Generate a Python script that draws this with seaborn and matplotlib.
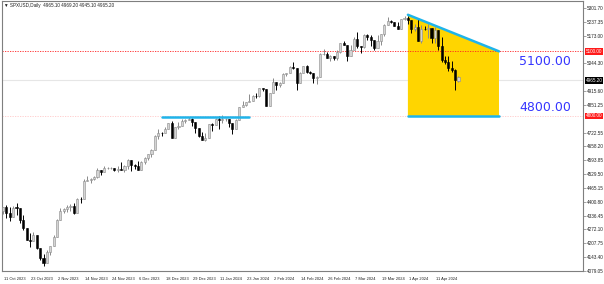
import matplotlib
matplotlib.use("Agg")
import matplotlib.pyplot as plt
import matplotlib.transforms as mtransforms
import seaborn as sns
import pandas as pd
import numpy as np

# ---------------- data ----------------
dates = ["11 Oct 2023","12 Oct 2023","13 Oct 2023","16 Oct 2023","17 Oct 2023","18 Oct 2023","19 Oct 2023","20 Oct 2023",
 "23 Oct 2023","24 Oct 2023","25 Oct 2023","26 Oct 2023","27 Oct 2023","30 Oct 2023","31 Oct 2023","1 Nov 2023",
 "2 Nov 2023","3 Nov 2023","6 Nov 2023","7 Nov 2023","8 Nov 2023","9 Nov 2023","10 Nov 2023","13 Nov 2023",
 "14 Nov 2023","15 Nov 2023","16 Nov 2023","17 Nov 2023","20 Nov 2023","21 Nov 2023","22 Nov 2023","23 Nov 2023",
 "24 Nov 2023","27 Nov 2023","28 Nov 2023","29 Nov 2023","30 Nov 2023","1 Dec 2023","4 Dec 2023","5 Dec 2023",
 "6 Dec 2023","7 Dec 2023","8 Dec 2023","11 Dec 2023","12 Dec 2023","13 Dec 2023","14 Dec 2023","15 Dec 2023",
 "18 Dec 2023","19 Dec 2023","20 Dec 2023","21 Dec 2023","22 Dec 2023","26 Dec 2023","27 Dec 2023","28 Dec 2023",
 "29 Dec 2023","2 Jan 2024","3 Jan 2024","4 Jan 2024","5 Jan 2024","8 Jan 2024","9 Jan 2024","10 Jan 2024",
 "11 Jan 2024","12 Jan 2024","15 Jan 2024","16 Jan 2024","17 Jan 2024","18 Jan 2024","19 Jan 2024","22 Jan 2024",
 "23 Jan 2024","24 Jan 2024","25 Jan 2024","26 Jan 2024","29 Jan 2024","30 Jan 2024","31 Jan 2024","1 Feb 2024",
 "2 Feb 2024","5 Feb 2024","6 Feb 2024","7 Feb 2024","8 Feb 2024","9 Feb 2024","12 Feb 2024","13 Feb 2024",
 "14 Feb 2024","15 Feb 2024","16 Feb 2024","19 Feb 2024","20 Feb 2024","21 Feb 2024","22 Feb 2024","23 Feb 2024",
 "26 Feb 2024","27 Feb 2024","28 Feb 2024","29 Feb 2024","1 Mar 2024","4 Mar 2024","5 Mar 2024","6 Mar 2024",
 "7 Mar 2024","8 Mar 2024","11 Mar 2024","12 Mar 2024","13 Mar 2024","14 Mar 2024","15 Mar 2024","18 Mar 2024",
 "19 Mar 2024","20 Mar 2024","21 Mar 2024","22 Mar 2024","25 Mar 2024","26 Mar 2024","27 Mar 2024","28 Mar 2024",
 "1 Apr 2024","2 Apr 2024","3 Apr 2024","4 Apr 2024","5 Apr 2024","8 Apr 2024","9 Apr 2024","10 Apr 2024",
 "11 Apr 2024","12 Apr 2024","15 Apr 2024","16 Apr 2024","17 Apr 2024","18 Apr 2024","19 Apr 2024","22 Apr 2024"]

opens = [4358.2,4377.0,4349.6,4327.8,4373.6,4373.2,4314.6,4278.0,4224.2,4217.0,4247.7,4186.8,4137.2,4117.4,4166.8,4193.8,
 4237.9,4317.8,4358.3,4366.0,4378.4,4382.8,4347.4,4415.2,4411.6,4495.7,4502.9,4508.2,4514.0,4547.4,4538.2,4556.6,
 4558.0,4559.3,4550.4,4554.9,4550.6,4567.8,4594.6,4569.8,4567.2,4549.3,4585.6,4604.4,4622.4,4643.7,4707.1,4719.6,
 4719.2,4740.6,4768.4,4698.4,4746.8,4754.6,4774.8,4781.6,4783.4,4769.8,4742.8,4704.8,4688.7,4697.2,4763.5,4756.5,
 4783.5,4780.2,4783.8,4786.0,4766.0,4739.2,4780.9,4839.8,4850.4,4864.6,4868.6,4894.2,4891.0,4927.9,4925.0,4845.7,
 4906.2,4958.6,4942.8,4954.2,4995.1,4997.9,5026.6,5021.8,4953.2,5000.6,5029.7,5005.6,5000.0,4975.5,4981.8,5087.0,
 5088.8,5069.5,5078.2,5069.8,5096.3,5137.1,5131.0,5078.7,5104.8,5157.4,5123.7,5117.9,5175.3,5165.3,5150.5,5117.1,
 5149.4,5178.5,5224.6,5241.5,5234.2,5218.2,5203.6,5248.5,5254.4,5243.8,5205.8,5211.5,5147.2,5204.3,5202.4,5209.9,
 5160.6,5199.1,5123.4,5061.8,5051.4,5022.2,5011.1,4960.0]

highs = [4378.6,4385.9,4377.1,4383.3,4393.6,4373.2,4339.5,4278.0,4255.8,4259.4,4247.7,4186.8,4156.7,4177.5,4195.6,4245.6,
 4319.7,4373.6,4372.2,4386.3,4391.2,4393.4,4418.0,4421.8,4508.7,4521.2,4512.0,4520.1,4557.1,4547.4,4568.4,4562.0,
 4560.3,4559.3,4568.1,4587.6,4569.9,4599.4,4594.6,4578.6,4590.7,4590.9,4609.2,4623.2,4643.9,4709.7,4738.6,4725.5,
 4749.5,4768.7,4778.0,4748.7,4772.9,4784.7,4785.4,4793.3,4788.4,4769.8,4742.8,4726.8,4721.5,4764.5,4765.5,4790.8,
 4798.5,4802.4,4790.0,4786.0,4766.0,4785.8,4842.1,4868.4,4866.5,4903.7,4898.2,4906.7,4929.3,4931.1,4925.0,4907.0,
 4975.3,4958.6,4957.8,4999.9,5000.4,5030.1,5048.4,5021.8,5002.5,5032.7,5038.7,5010.0,5000.0,4983.2,5094.4,5111.1,
 5097.7,5080.7,5078.2,5105.0,5140.3,5149.7,5131.0,5128.0,5165.6,5189.3,5124.7,5179.9,5179.1,5176.9,5150.5,5175.6,
 5180.3,5226.2,5261.1,5246.1,5234.2,5235.2,5249.3,5264.9,5264.0,5243.8,5228.8,5256.6,5222.2,5219.6,5224.8,5209.9,
 5211.8,5199.1,5168.4,5079.8,5078.0,5056.7,5019.0,4985.0]

lows = [4345.3,4325.4,4312.0,4327.8,4337.5,4303.8,4269.7,4223.0,4189.2,4217.0,4181.4,4127.9,4103.8,4117.4,4153.1,4193.8,
 4237.9,4317.8,4347.5,4355.4,4359.8,4343.9,4347.4,4393.8,4411.6,4495.3,4487.8,4499.7,4510.4,4525.5,4538.2,4552.0,
 4552.8,4544.6,4540.5,4547.2,4537.2,4554.7,4545.0,4551.7,4546.5,4549.3,4574.1,4593.4,4608.1,4643.2,4694.3,4704.7,
 4719.2,4740.6,4697.8,4698.4,4736.8,4754.6,4768.9,4781.0,4752.0,4722.7,4699.7,4687.5,4682.1,4697.2,4730.4,4756.2,
 4739.6,4769.0,4776.0,4747.1,4714.8,4739.2,4780.9,4839.8,4844.4,4864.6,4868.6,4881.5,4887.4,4916.3,4845.2,4845.7,
 4906.2,4918.1,4934.9,4954.2,4987.1,4997.9,5016.8,4920.3,4953.2,4999.4,4999.5,4996.0,4955.0,4946.0,4981.8,5081.5,
 5068.9,5057.3,5058.4,5061.9,5094.2,5127.2,5056.8,5078.7,5104.8,5117.5,5091.1,5114.5,5151.9,5123.3,5104.4,5117.1,
 5131.6,5171.6,5224.6,5229.9,5216.1,5203.4,5203.6,5245.8,5229.2,5184.1,5194.4,5146.1,5140.0,5197.4,5160.8,5138.7,
 5138.8,5107.9,5052.5,5039.8,5007.3,5001.9,4922.0,4958.0]

closes = [4377.0,4349.6,4327.8,4373.6,4373.2,4314.6,4278.0,4224.2,4217.0,4247.7,4186.8,4137.2,4117.4,4166.8,4193.8,4237.9,
 4317.8,4358.3,4366.0,4378.4,4382.8,4347.4,4415.2,4411.6,4495.7,4502.9,4508.2,4514.0,4547.4,4538.2,4556.6,4558.0,
 4559.3,4550.4,4554.9,4550.6,4567.8,4594.6,4569.8,4567.2,4549.3,4585.6,4604.4,4622.4,4643.7,4707.1,4719.6,4719.2,
 4740.6,4768.4,4698.4,4746.8,4754.6,4774.8,4781.6,4783.4,4769.8,4742.8,4704.8,4688.7,4697.2,4763.5,4756.5,4783.5,
 4780.2,4783.8,4786.0,4766.0,4739.2,4780.9,4839.8,4850.4,4864.6,4868.6,4894.2,4891.0,4927.9,4925.0,4845.7,4906.2,
 4958.6,4942.8,4954.2,4995.1,4997.9,5026.6,5021.8,4953.2,5000.6,5029.7,5005.6,5000.0,4975.5,4981.8,5087.0,5088.8,
 5069.5,5078.2,5069.8,5096.3,5137.1,5131.0,5078.7,5104.8,5157.4,5123.7,5117.9,5175.3,5165.3,5150.5,5117.1,5149.4,
 5178.5,5224.6,5241.5,5234.2,5218.2,5203.6,5248.5,5254.4,5243.8,5205.8,5211.5,5147.2,5204.3,5202.4,5209.9,5160.6,
 5199.1,5123.4,5061.8,5051.4,5022.2,5011.1,4967.2,4980.0]

price_ticks = [5301.70,5237.35,5173.00,5044.30,4915.60,4851.25,4722.55,4658.20,4593.85,4529.50,
               4465.15,4400.80,4336.45,4272.10,4207.75,4143.40,4079.05]
xtick_labels = ["11 Oct 2023","23 Oct 2023","2 Nov 2023","14 Nov 2023","24 Nov 2023","6 Dec 2023",
                "18 Dec 2023","29 Dec 2023","11 Jan 2024","23 Jan 2024","2 Feb 2024","14 Feb 2024",
                "26 Feb 2024","7 Mar 2024","19 Mar 2024","1 Apr 2024","11 Apr 2024"]

title_text = "\u25bc SPXUSD,Daily  4965.10 4969.20 4945.10 4965.20"
resistance_level = 5100.00
support_level = 4800.00
current_price = 4965.20
wedge_top = [5270.0, 5100.0]
wedge_idx = [120, 147]
left_line_level = 4797.0
left_line_idx = [47, 73]

df = pd.DataFrame({"date": dates, "open": opens, "high": highs, "low": lows, "close": closes})
df["i"] = np.arange(len(df))
df["bull"] = df["close"] >= df["open"]

# ---------------- figure ----------------
sns.set_theme(style="white")
plt.rcParams["font.family"] = ["Liberation Sans", "DejaVu Sans"]
small = 3.3
xsmall = 2.9
fig = plt.figure(figsize=(6.04, 2.84), dpi=100)
W, H = 604, 284
ax = fig.add_axes([2 / W, (H - 271) / H, (583 - 2) / W, (271 - 1) / H])

ax.set_xlim(-0.3, 171.9)
ax.set_ylim(4079.0, 5334.0)

# wedge fill
ax.fill([wedge_idx[0], wedge_idx[1], wedge_idx[1], wedge_idx[0]],
        [wedge_top[0], wedge_top[1], support_level, support_level],
        color="#ffd500", zorder=1, lw=0)

# horizontal reference lines
ax.axhline(resistance_level, color="#ff2020", lw=0.6, ls=(0, (1.5, 1.5)), zorder=2)
ax.axhline(support_level, color="#ffc8c8", lw=0.6, ls=(0, (1.5, 1.5)), zorder=0.5)
ax.axhline(current_price, color="#e6e6e6", lw=0.8, zorder=0.5)

# candles
bull_face, bear_face = "#d4d4d4", "#000000"
for _, r in df.iterrows():
    col_w = "#8a8a8a" if r["bull"] else "#000000"
    ax.vlines(r["i"], r["low"], r["high"], color=col_w, lw=0.7, zorder=3)
    lo, hi = min(r["open"], r["close"]), max(r["open"], r["close"])
    h = max(hi - lo, 1.5)
    ax.bar(r["i"], h, bottom=lo, width=0.62,
           color=bull_face if r["bull"] else bear_face,
           edgecolor="#8a8a8a" if r["bull"] else "#000000", lw=0.4, zorder=4)

# trend lines
line_col = "#1fb4ea"
sns.lineplot(x=wedge_idx, y=wedge_top, ax=ax, color=line_col, lw=1.8, zorder=5)
sns.lineplot(x=wedge_idx, y=[support_level, support_level], ax=ax, color=line_col, lw=1.8, zorder=5)
sns.lineplot(x=left_line_idx, y=[left_line_level, left_line_level], ax=ax, color=line_col, lw=1.8, zorder=5)

# level labels
ax.text(152.9, 5051, f"{resistance_level:.2f}", color="#3535ff", fontsize=9,
        family="DejaVu Sans", va="center", ha="left", zorder=6)
ax.text(152.9, 4837, f"{support_level:.2f}", color="#3535ff", fontsize=9,
        family="DejaVu Sans", va="center", ha="left", zorder=6)

# axes styling
for s in ["left", "bottom", "right", "top"]:
    ax.spines[s].set_visible(True)
    ax.spines[s].set_color("#7f7f7f")
    ax.spines[s].set_linewidth(0.8)

ax.yaxis.tick_right()
ax.set_yticks(price_ticks)
ax.set_yticklabels([f"{v:.2f}" for v in price_ticks], fontsize=small, color="#202020")
ax.tick_params(axis="y", which="major", length=2, width=0.5, color="#7f7f7f", pad=1)

xt = list(range(0, 8 * len(xtick_labels), 8))
ax.set_xticks(xt)
ax.set_xticklabels(xtick_labels, fontsize=xsmall, color="#202020", ha="left")
ax.tick_params(axis="x", which="major", length=4, width=0.5, color="#7f7f7f", pad=0.5, direction="out")
offset = mtransforms.ScaledTranslation(1.2 / 100, 0, fig.dpi_scale_trans)
for lbl in ax.get_xticklabels():
    lbl.set_transform(lbl.get_transform() + offset)

# price boxes on the right axis
box_kw = dict(fontsize=small, va="center", ha="left", color="white", zorder=7, clip_on=False)
for val, fc in [(resistance_level, "#ff1a1a"), (support_level, "#ff1a1a"), (current_price, "#000000")]:
    ax.text(1.005, val, f"{val:.2f}", transform=ax.get_yaxis_transform(),
            bbox=dict(boxstyle="square,pad=0.15", fc=fc, ec="none"), **box_kw)

# title
fig.text(4 / W, 1 - 6 / H, title_text, fontsize=small, color="#202020", va="center", ha="left")

fig.savefig("out.png", dpi=100, facecolor="white")
